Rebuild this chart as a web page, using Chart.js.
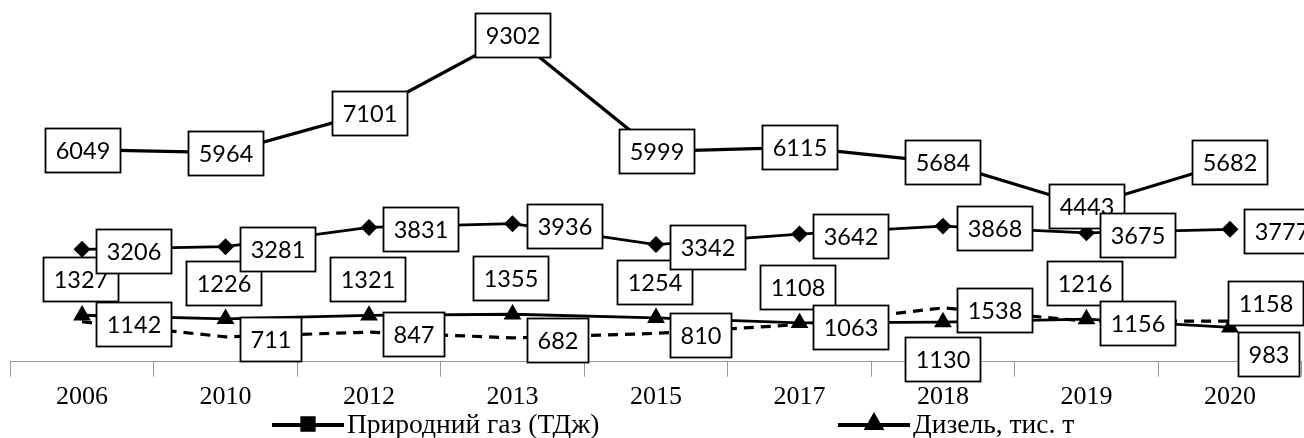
<!DOCTYPE html>
<html>
<head>
<meta charset="utf-8">
<script src="https://cdn.jsdelivr.net/npm/chart.js@4/dist/chart.umd.min.js"></script>
<style>
  html, body { margin: 0; padding: 0; background: #fff; overflow: hidden; }
  #wrap { width: 1312px; height: 438px; }
</style>
</head>
<body>
<div id="wrap"><canvas id="chart" width="1312" height="438"></canvas></div>
<script>
/* Line chart with boxed data labels, 2006–2020. */

const years = ['2006', '2010', '2012', '2013', '2015', '2017', '2018', '2019', '2020'];

const gas      = [6049, 5964, 7101, 9302, 5999, 6115, 5684, 4443, 5682];
const diesel   = [1327, 1226, 1321, 1355, 1254, 1108, 1130, 1216, 983];
const series3  = [3206, 3281, 3831, 3936, 3342, 3642, 3868, 3675, 3777];
const series4  = [1142, 711, 847, 682, 810, 1063, 1538, 1156, 1158];

const legendNames = ['Природний газ (ТДж)', 'Дизель, тис. т'];

// label placement per point: c = centre, r = right, a = above, b = below
const gasPos     = ['c', 'c', 'c', 'c', 'c', 'c', 'c', 'c', 'c'];
const dieselPos  = ['a', 'a', 'a', 'a', 'a', 'a', 'b', 'a', 'br'];
const series3Pos = ['r', 'r', 'r', 'r', 'r', 'r', 'r', 'r', 'r'];
const series4Pos = ['r', 'r', 'r', 'r', 'r', 'r', 'r', 'r', 'ar'];

const LABEL_FONT = '23.5px Lato';
const SERIF = '"Liberation Serif", "Times New Roman", serif';

const boxLabels = {
  id: 'boxLabels',
  afterDatasetsDraw(chart) {
    const ctx = chart.ctx;
    ctx.save();
    ctx.font = LABEL_FONT;
    ctx.textAlign = 'center';
    ctx.textBaseline = 'middle';
    ctx.lineWidth = 1.8;
    chart.data.datasets.forEach((ds, di) => {
      const meta = chart.getDatasetMeta(di);
      meta.data.forEach((pt, i) => {
        const txt = String(ds.data[i]);
        const w = Math.round(ctx.measureText(txt).width + 20), h = 44;
        let cx = pt.x, cy = pt.y;
        switch (ds.labelPos[i]) {
          case 'r':  cx = pt.x + 14 + w / 2; cy = pt.y + 2; break;
          case 'a':  cx = pt.x - 2; cy = pt.y - 14 - h / 2; break;
          case 'b':  cx = pt.x; cy = pt.y + 15 + h / 2; break;
          case 'br': cx = pt.x + 8 + w / 2; cy = pt.y + 5 + h / 2; break;
          case 'ar': cx = pt.x - 2 + w / 2; cy = pt.y + 4 - h / 2; break;
        }
        const x0 = Math.round(cx - w / 2), y0 = Math.round(cy - h / 2);
        ctx.fillStyle = '#fff';
        ctx.fillRect(x0, y0, w, h);
        ctx.strokeStyle = '#000';
        ctx.strokeRect(x0 + 0.5, y0 + 0.5, w, h);
        ctx.fillStyle = '#000';
        ctx.fillText(txt, x0 + w / 2 + 0.5, y0 + h / 2 + 1.5);
      });
    });
    ctx.restore();
  }
};

// legend row (only the first two series are visible in the source)
const legendRow = {
  id: 'legendRow',
  afterDraw(chart) {
    const ctx = chart.ctx;
    const starts = [272, 838];
    const y = 425;
    ctx.save();
    ctx.font = '27.5px ' + SERIF;
    ctx.textBaseline = 'middle';
    legendNames.forEach((name, i) => {
      const ds = chart.data.datasets[i];
      const x = starts[i];
      ctx.strokeStyle = '#000';
      ctx.lineWidth = 4;
      ctx.beginPath(); ctx.moveTo(x, y); ctx.lineTo(x + 72, y); ctx.stroke();
      ctx.fillStyle = '#000';
      Chart.helpers.drawPoint(ctx, { pointStyle: ds.pointStyle, radius: 8, borderWidth: 1 }, x + 36, y - 1);
      ctx.fillText(name, x + 75, y + 1);
    });
    ctx.restore();
  }
};

const mk = (label, data, pos, extra) => Object.assign({
  label, data, labelPos: pos,
  borderColor: '#000', backgroundColor: '#000',
  borderWidth: 2.8, tension: 0, fill: false,
  pointRadius: 0, pointBorderColor: '#000', pointBackgroundColor: '#000',
}, extra);

new Chart(document.getElementById('chart'), {
  type: 'line',
  data: {
    labels: years,
    datasets: [
      mk(legendNames[0], gas, gasPos, { borderWidth: 3.2, pointStyle: 'rect', pointRadius: 5 }),
      mk(legendNames[1], diesel, dieselPos, { pointStyle: 'triangle', pointRadius: 7.5 }),
      mk('series3', series3, series3Pos, { pointStyle: 'rectRot', pointRadius: 6.5 }),
      mk('series4', series4, series4Pos, { borderWidth: 3.2, borderDash: [10, 7], pointRadius: 0 }),
    ],
  },
  options: {
    responsive: false,
    animation: false,
    layout: { padding: { left: 10, right: 0, top: 11, bottom: 20 } },
    plugins: { legend: { display: false }, tooltip: { enabled: false } },
    scales: {
      x: {
        offset: true,
        grid: { offset: true, drawOnChartArea: false, tickLength: 15, color: '#9a9a9a', lineWidth: 1 },
        border: { color: '#9a9a9a', width: 1 },
        ticks: { color: '#000', padding: 5, autoSkip: false, maxRotation: 0, font: { family: SERIF, size: 26 } },
      },
      y: { display: false, min: 0, max: 10000 },
    },
  },
  plugins: [boxLabels, legendRow],
});
</script>
</body>
</html>
